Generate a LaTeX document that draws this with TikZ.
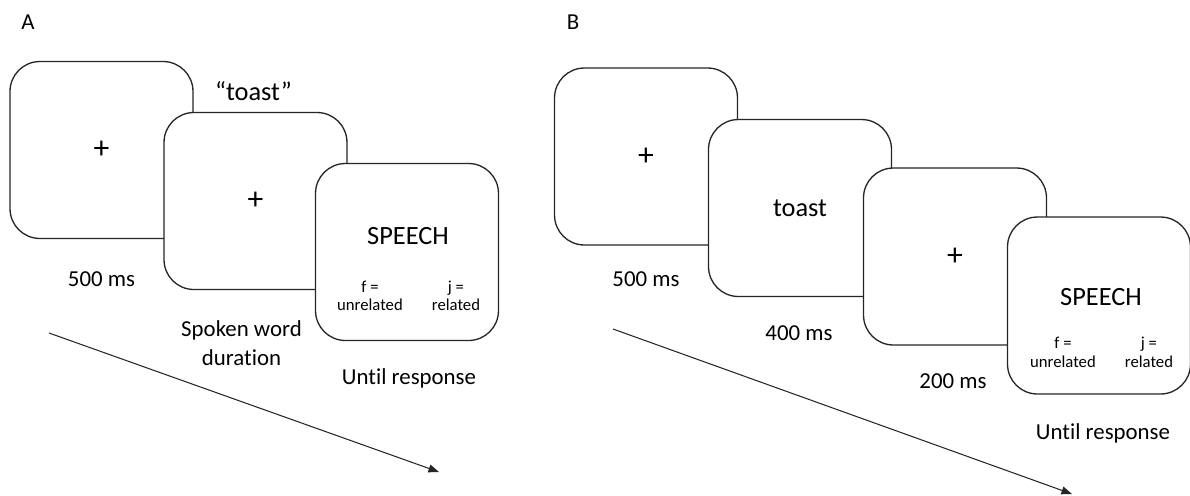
\documentclass[tikz,border=0pt]{standalone}
\usepackage{fontspec}
\setmainfont{Carlito}[Ligatures=NoCommon]
\usepackage{tikz}
\usetikzlibrary{arrows.meta,calc,positioning}
\tikzset{screen/.style={draw=black!85, line width=0.75pt, fill=white, rounded corners=17pt,
                        minimum width=3.66cm, minimum height=3.54cm, inner sep=0pt,
                        font=\fontsize{15}{18}\selectfont},
         fixcross/.style={font=\fontsize{18}{18}\selectfont},
         bigtext/.style={font=\fontsize{15}{18}\selectfont},
         timetext/.style={font=\fontsize{13}{16.5}\selectfont, align=center},
         keytext/.style={font=\fontsize{9.5}{10.5}\selectfont, align=center},
         timeline/.style={draw=black!85, line width=0.6pt, -{Triangle[length=6pt,width=4.5pt]}}}

\begin{document}
\begin{tikzpicture}[x=0.02cm,y=-0.02cm]
\useasboundingbox (0,0) rectangle (1190,495);

% panel A
\node[timetext] (labA) at (28,22) {A};
\node[screen] (a1) at (101.5,150) {};
\node[screen] (a2) at (255.5,201) {};
\node[screen] (a3) at (407,252) {};
\node[fixcross] (crossA1) at (a1.center) {+};
\node[fixcross] (crossA2) at (a2.center) {+};
\node[bigtext] (wordA) at ($(a2.north)+(-2,-21)$) {“toast”};
\node[bigtext] (speechA) at ($(a3.center)+(1,-16)$) {SPEECH};
\node[keytext] (fA) at ($(a3.center)+(-37,44)$) {f =\\unrelated};
\node[keytext] (jA) at ($(a3.center)+(49,44)$) {j =\\related};

\node[timetext] at ($(a1.south)+(0,40)$) {500 ms};
\node[timetext] at ($(a2.south)+(-14,53)$) {Spoken word\\duration};
\node[timetext] at ($(a3.south)+(2,37)$) {Until response};

\coordinate (tA0) at (49,333);
\coordinate (tA1) at (439,472);
\draw[timeline] (tA0) -- (tA1);

% panel B
\node[timetext] (labB) at (573,22) {B};
\node[screen] (b1) at (646,156.5) {};
\node[fixcross] (crossB1) at (b1.center) {+};
\node[screen] (b2) at (800,208) {toast};
\node[screen] (b3) at (955,256.5) {};
\node[fixcross] (crossB3) at (b3.center) {+};
\node[screen] (b4) at (1099,305.5) {};
\node[bigtext] (speechB) at ($(b4.center)+(2,-8)$) {SPEECH};
\node[keytext] (fB) at ($(b4.center)+(-36,47)$) {f =\\unrelated};
\node[keytext] (jB) at ($(b4.center)+(50,47)$) {j =\\related};

\node[timetext] at ($(b1.south)+(0,34)$) {500 ms};
\node[timetext] at ($(b2.south)+(-1,36)$) {400 ms};
\node[timetext] at ($(b3.south)+(-2,36)$) {200 ms};
\node[timetext] at ($(b4.south)+(4,39)$) {Until response};

\coordinate (tB0) at (613,329);
\coordinate (tB1) at (1072,494);
\draw[timeline] (tB0) -- (tB1);
\end{tikzpicture}
\end{document}
